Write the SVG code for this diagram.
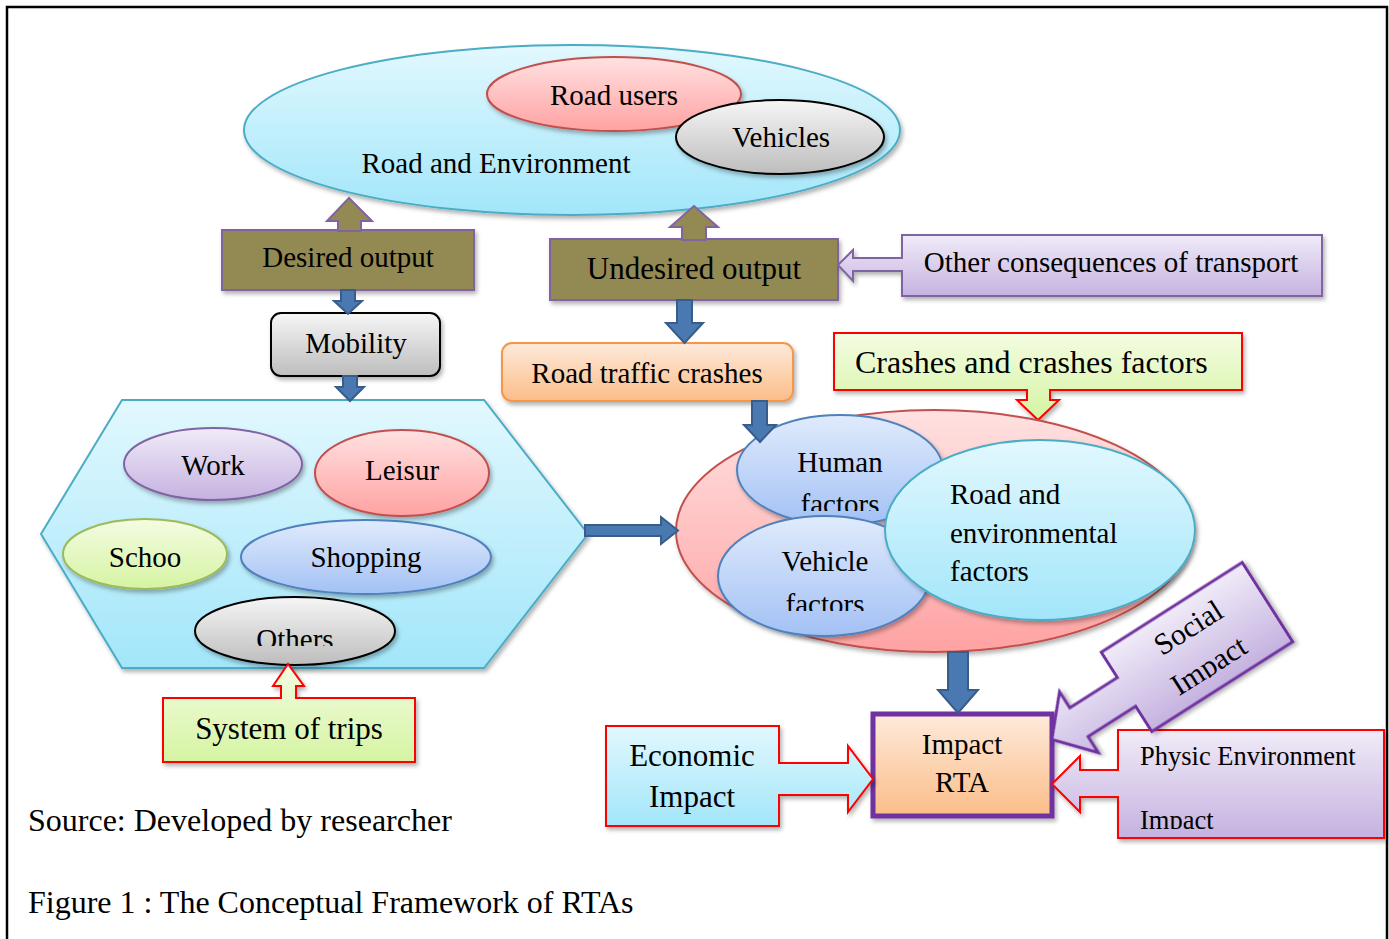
<svg xmlns="http://www.w3.org/2000/svg" width="1389" height="939" viewBox="0 0 1389 939">
<style>
text{font-family:"Liberation Serif","Times New Roman",serif;fill:#000;font-size:29px}
.c{text-anchor:middle}
.big{font-size:31px}
.cap{font-size:32px}
.cyan{fill:url(#gCyan);stroke:#4bacc6;stroke-width:2}
.pink{fill:url(#gPink);stroke:#c0504d;stroke-width:2}
.gray{fill:url(#gGray);stroke:#000;stroke-width:2}
.purp{fill:url(#gPurp);stroke:#8064a2;stroke-width:2}
.green{fill:url(#gGreen);stroke:#9bbb59;stroke-width:2}
.blue{fill:url(#gBlue);stroke:#4f81bd;stroke-width:2}
.orange{fill:url(#gOrange);stroke:#f79646;stroke-width:2}
.olive{fill:#938953;stroke:#8064a2;stroke-width:2}
.redg{fill:url(#gGreen);stroke:#ff0000;stroke-width:2}
.redc{fill:url(#gCyan);stroke:#ff0000;stroke-width:2}
.redp{fill:url(#gPurp);stroke:#ff0000;stroke-width:2}
.barrow{fill:#4a78b0;stroke:#385d8a;stroke-width:2}
.sh{filter:url(#shadow)}
</style>
<defs>
<linearGradient id="gCyan" x1="0" y1="0" x2="0" y2="1"><stop offset="0" stop-color="#e2f8fe"/><stop offset="1" stop-color="#a2e6fa"/></linearGradient>
<linearGradient id="gPink" x1="0" y1="0" x2="0" y2="1"><stop offset="0" stop-color="#ffe1e1"/><stop offset="1" stop-color="#ffa2a2"/></linearGradient>
<linearGradient id="gGray" x1="0" y1="0" x2="0" y2="1"><stop offset="0" stop-color="#f6f6f6"/><stop offset="1" stop-color="#bdbdbd"/></linearGradient>
<linearGradient id="gPurp" x1="0" y1="0" x2="0" y2="1"><stop offset="0" stop-color="#f0ebf8"/><stop offset="1" stop-color="#c5b2e0"/></linearGradient>
<linearGradient id="gGreen" x1="0" y1="0" x2="0" y2="1"><stop offset="0" stop-color="#f4fce2"/><stop offset="1" stop-color="#d5f4a2"/></linearGradient>
<linearGradient id="gBlue" x1="0" y1="0" x2="0" y2="1"><stop offset="0" stop-color="#e0ebfc"/><stop offset="1" stop-color="#a3c1f5"/></linearGradient>
<linearGradient id="gOrange" x1="0" y1="0" x2="0" y2="1"><stop offset="0" stop-color="#feeadb"/><stop offset="1" stop-color="#fbbd88"/></linearGradient>
<filter id="shadow" x="-10%" y="-10%" width="125%" height="130%"><feDropShadow dx="2" dy="3" stdDeviation="2" flood-color="#000" flood-opacity="0.3"/></filter>
<clipPath id="clipOthers"><rect x="200" y="600" width="200" height="46"/></clipPath>
<clipPath id="clipHuman"><rect x="740" y="440" width="200" height="71"/></clipPath>
<clipPath id="clipVehicle"><rect x="720" y="540" width="210" height="71"/></clipPath>
<clipPath id="clipPhysic"><rect x="1120" y="735" width="260" height="94"/></clipPath>
<clipPath id="clipSocial"><rect x="-90" y="-47" width="180" height="80"/></clipPath>
</defs>
<rect x="7" y="7" width="1380" height="960" fill="#fff" stroke="#000" stroke-width="2.5"/>

<g id="road-environment">
<ellipse class="cyan sh" cx="572" cy="130" rx="328" ry="85"/>
<text x="496" y="173" class="c">Road and Environment</text>
</g>
<g id="road-users">
<ellipse class="pink sh" cx="614" cy="94" rx="127" ry="37"/>
<text x="614" y="105" class="c">Road users</text>
</g>
<g id="vehicles">
<ellipse class="gray sh" cx="780" cy="137" rx="104" ry="37"/>
<text x="781" y="147" class="c">Vehicles</text>
</g>

<g id="desired-output">
<rect class="olive sh" x="222" y="230" width="252" height="60"/>
<text x="348" y="267" class="c">Desired output</text>
</g>
<g id="undesired-output">
<rect class="olive sh" x="550" y="239" width="288" height="61"/>
<text x="694" y="279" class="c big">Undesired output</text>
</g>
<g id="other-consequences">
<path class="purp sh" d="M902,235 H1322 V296 H902 V271 H853 V281 L838,265 L853,250 V258 H902 Z"/>
<text x="1111" y="272" class="c">Other consequences of transport</text>
</g>
<g id="mobility">
<rect class="gray sh" x="271" y="313" width="169" height="63" rx="10"/>
<text x="356" y="353" class="c">Mobility</text>
</g>
<g id="road-traffic-crashes">
<rect class="orange sh" x="502" y="343" width="291" height="58" rx="10"/>
<text x="647" y="383" class="c">Road traffic crashes</text>
</g>
<g id="crashes-factors-label">
<path class="redg sh" d="M834,333 H1242 V390 H1050 V400 H1059 L1038,420 L1017,400 H1027 V390 H834 Z"/>
<text x="855" y="373" class="cap">Crashes and crashes factors</text>
</g>

<g id="system-of-trips-area">
<polygon class="cyan sh" points="122,400 484,400 588,534 484,668 122,668 41,534"/>
</g>
<g id="work">
<ellipse class="purp sh" cx="213" cy="464" rx="89" ry="36"/>
<text x="213" y="475" class="c">Work</text>
</g>
<g id="leisur">
<ellipse class="pink sh" cx="402" cy="473" rx="87" ry="43"/>
<text x="402" y="480" class="c">Leisur</text>
</g>
<g id="schoo">
<ellipse class="green sh" cx="145" cy="554" rx="82" ry="35"/>
<text x="145" y="567" class="c">Schoo</text>
</g>
<g id="shopping">
<ellipse class="blue sh" cx="366" cy="557" rx="125" ry="37"/>
<text x="366" y="567" class="c">Shopping</text>
</g>
<g id="others">
<ellipse class="gray sh" cx="295" cy="631" rx="100" ry="34"/>
<text x="295" y="649" class="c" clip-path="url(#clipOthers)">Others</text>
</g>
<g id="system-of-trips">
<path class="redg sh" d="M163,698 H281 V686 H273 L288,664 L304,686 H296 V698 H415 V762 H163 Z"/>
<text x="289" y="739" class="c big">System of trips</text>
</g>

<g id="crashes">
<ellipse class="pink sh" cx="934" cy="531" rx="258" ry="121"/>
</g>
<g id="human-factors">
<ellipse class="blue sh" cx="840" cy="470" rx="103" ry="55"/>
<text x="840" y="472" class="c">Human</text>
<text x="840" y="514" class="c" clip-path="url(#clipHuman)">factors</text>
</g>
<g id="vehicle-factors">
<ellipse class="blue sh" cx="824" cy="576" rx="106" ry="60"/>
<text x="825" y="571" class="c">Vehicle</text>
<text x="825" y="614" class="c" clip-path="url(#clipVehicle)">factors</text>
</g>
<g id="road-env-factors">
<ellipse class="cyan sh" cx="1040" cy="530" rx="155" ry="90"/>
<text x="950" y="504">Road and</text>
<text x="950" y="543">environmental</text>
<text x="950" y="581">factors</text>
</g>

<g id="impact-rta">
<rect x="873" y="714" width="179" height="102" fill="url(#gOrange)" stroke="#7030a0" stroke-width="5" class="sh"/>
<text x="962" y="754" class="c">Impact</text>
<text x="962" y="792" class="c">RTA</text>
</g>
<g id="economic-impact">
<path class="redc sh" d="M606,726 H779 V763 H848 V746 L873,779 L848,812 V795 H779 V826 H606 Z"/>
<text x="692" y="766" class="c big">Economic</text>
<text x="692" y="807" class="c big">Impact</text>
</g>
<g id="physic-environment-impact">
<path class="redp sh" d="M1118,730 H1384 V838 H1118 V797 H1080 V812 L1052,784 L1080,756 V770 H1118 Z"/>
<g clip-path="url(#clipPhysic)">
<text x="1140" y="765" style="font-size:26.5px">Physic Environment</text>
<text x="1140" y="829" style="font-size:26.5px">Impact</text>
</g>
</g>
<g id="social-impact" transform="translate(1197,647) rotate(-32.5)">
<path d="M-83.5,-47 H83.5 V47 H-83.5 V17 H-140 V36 L-172,0 L-140,-36 V-17 H-83.5 Z" fill="url(#gPurp)" stroke="#7030a0" stroke-width="3" class="sh"/>
<g clip-path="url(#clipSocial)">
<text x="3" y="-11" class="c" style="font-size:30px">Social</text>
<text x="0" y="32" class="c" style="font-size:30px">Impact</text>
</g>
</g>

<g id="connectors">
<path class="olive" d="M338,231 V221 H327 L349,198 L372,221 H361 V231 Z"/>
<path class="olive" d="M682,240 V227 H670 L694,206 L718,227 H706 V240 Z"/>
<path class="barrow" d="M341,290 V301 H334 L348,314 L362,301 H355 V290 Z"/>
<path class="barrow" d="M343,376 V387 H336 L350,401 L364,387 H357 V376 Z"/>
<path class="barrow" d="M677,300 V323 H666 L684.5,343 L703,323 H692 V300 Z"/>
<path class="barrow" d="M752,401 V425 H744 L760,442 L776,425 H767 V401 Z"/>
<path class="barrow" d="M948,652 V690 H938 L958,713 L978,690 H968 V652 Z"/>
<path class="barrow" d="M585,525 H661 V517 L678,530.5 L661,544 V536 H585 Z"/>
</g>

<text x="28" y="831" class="cap">Source: Developed by researcher</text>
<text x="28" y="913" class="cap">Figure 1 : The Conceptual Framework of RTAs</text>
</svg>
